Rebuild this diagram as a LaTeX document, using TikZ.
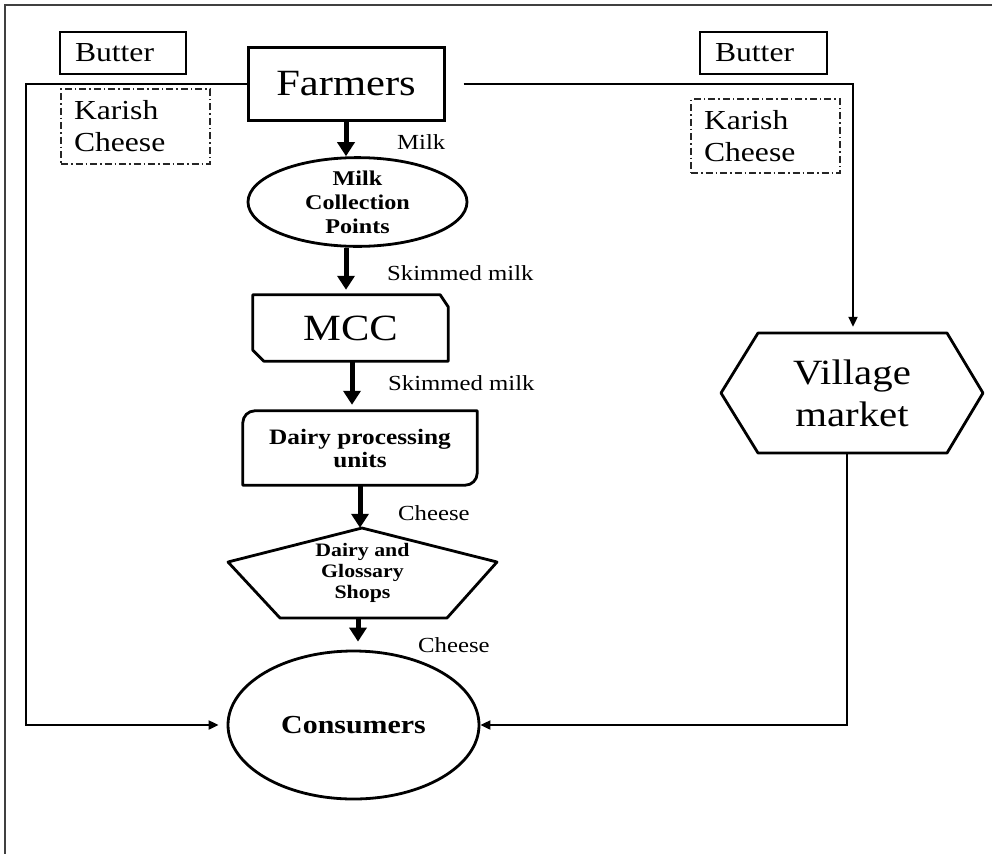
\documentclass[tikz,border=0pt]{standalone}
\usepackage{fontspec}
\setmainfont{Liberation Serif}[FakeStretch=1.15]
\usetikzlibrary{arrows.meta,shapes.geometric,calc}
\newcommand{\fsz}[2]{\fontsize{#1}{#2}\selectfont}
\begin{document}
\begin{tikzpicture}[x=1pt,y=-1pt,
  box/.style={draw, line width=1.3pt, rectangle, inner ysep=0pt, align=left},
  dbox/.style={draw=black!85, line width=1.2pt, dash pattern=on 7pt off 3pt on 1.5pt off 3pt, rectangle, inner ysep=0pt, align=left},
  bigarrow/.style={line width=5pt, -{Triangle[width=17pt,length=14pt]}},
  thinarrow/.style={line width=2pt, -{Triangle[width=9pt,length=10pt]}},
  lbl/.style={anchor=west, inner sep=0pt, font=\fsz{21.5}{24}},
  shapeline/.style={line width=2.8pt},
  holder/.style={inner sep=0pt, align=center},
]
\useasboundingbox (0,0) rectangle (992,854);
\draw[line width=1.5pt, black!75] (992,5) -- (5,5) -- (5,854);

% top boxes
\node[draw, line width=3pt, minimum width=196pt, minimum height=73pt, inner sep=0pt, font=\fsz{37}{40}] (farm) at (346,83.5) {Farmers};
\node[box, text width=96pt, inner xsep=15pt, minimum height=42pt, font=\fsz{27.5}{32}] (butL) at (123,53) {Butter};
\node[dbox, text width=123pt, inner xsep=13pt, minimum height=75pt, font=\fsz{27.5}{32}] (karL) at (135.5,126.5) {Karish\\Cheese};
\node[box, text width=97pt, inner xsep=15pt, minimum height=42pt, font=\fsz{27.5}{32}] (butR) at (763.5,53) {Butter};
\node[dbox, text width=123pt, inner xsep=13pt, minimum height=74pt, font=\fsz{27.5}{32}] (karR) at (765.5,136) {Karish\\Cheese};

% milk collection points
\node[ellipse, draw, shapeline, minimum width=219pt, minimum height=80pt, inner sep=0pt, align=center, font=\bfseries\fsz{21}{24}] (mcp) at (357.5,202) {Milk\\Collection\\Points};

% MCC
\node[holder, minimum width=195pt, minimum height=66pt, font=\fsz{37}{40}] (mcc) at (350.5,328) {MCC};
\draw[shapeline, line join=round] (mcc.north west) -- ($(mcc.north east)+(-8,0)$) -- ($(mcc.north east)+(0,12)$) -- (mcc.south east) -- ($(mcc.south west)+(11,0)$) -- ($(mcc.south west)+(0,-11)$) -- cycle;

% dairy processing units
\node[holder, minimum width=234pt, minimum height=74pt, font=\bfseries\fsz{22}{23}] (dpu) at (360,448) {Dairy processing\\units};
\draw[shapeline, line join=round] (dpu.north east) -- ($(dpu.north west)+(12,0)$) .. controls ($(dpu.north west)+(5.4,0)$) and ($(dpu.north west)+(0,5.4)$) .. ($(dpu.north west)+(0,12)$) -- (dpu.south west) -- ($(dpu.south east)+(-12,0)$) .. controls ($(dpu.south east)+(-5.4,0)$) and ($(dpu.south east)+(0,-5.4)$) .. ($(dpu.south east)+(0,-12)$) -- cycle;

% dairy and glossary shops
\node[holder, minimum width=269pt, minimum height=90pt, font=\bfseries\fsz{19}{21}] (shop) at (362.5,573) {Dairy and\\Glossary\\Shops};
\draw[shapeline, line join=round] ($(shop)+(-0.5,-45)$) -- ($(shop)+(134.5,-11)$) -- ($(shop)+(84.5,45)$) -- ($(shop)+(-82.5,45)$) -- ($(shop)+(-134.5,-11)$) -- cycle;

% village market
\node[holder, minimum width=262pt, minimum height=120pt, font=\fsz{35.5}{42}] (vm) at (852,393) {Village\\market};
\draw[shapeline, line join=round] ($(vm)+(-131,0)$) -- ($(vm)+(-94,-60)$) -- ($(vm)+(95,-60)$) -- ($(vm)+(131,0)$) -- ($(vm)+(95,60)$) -- ($(vm)+(-94,60)$) -- cycle;

% consumers
\node[ellipse, draw, shapeline, minimum width=251pt, minimum height=148pt, inner sep=0pt, font=\bfseries\fsz{26}{30}] (cons) at (353.5,725) {Consumers};

% thick arrows
\draw[bigarrow] (farm.south) -- (farm.south |- mcp.north);
\draw[bigarrow] (mcp.south -| farm.south) -- ($(mcc.north -| farm.south)+(0,-5)$);
\draw[bigarrow] ($(mcc.south)+(1.5,0)$) -- ($(dpu.north -| mcc.south)+(1.5,-6)$);
\draw[bigarrow] (dpu.south) -- (dpu.south |- shop.north);
\draw[bigarrow] ($(shop.south)+(-4.5,0)$) -- ($(cons.north -| shop.south)+(-4.5,-8)$);

% thin connectors
\draw[thinarrow] (farm.west) -- ++(-221,0) |- ($(cons.west)+(-8,0)$);
\draw[thinarrow] ($(farm.east)+(18,0)$) -| ($(vm.north)+(1,-6)$);
\draw[thinarrow] ($(vm.south)+(-5,0)$) |- (cons.east);

% labels
\node[lbl] (lmilk) at (397,142) {Milk};
\node[lbl] (lsk1) at (387,273) {Skimmed milk};
\node[lbl] (lsk2) at (388,383) {Skimmed milk};
\node[lbl] (lch1) at (398,513) {Cheese};
\node[lbl] (lch2) at (418,645) {Cheese};
\end{tikzpicture}
\end{document}
